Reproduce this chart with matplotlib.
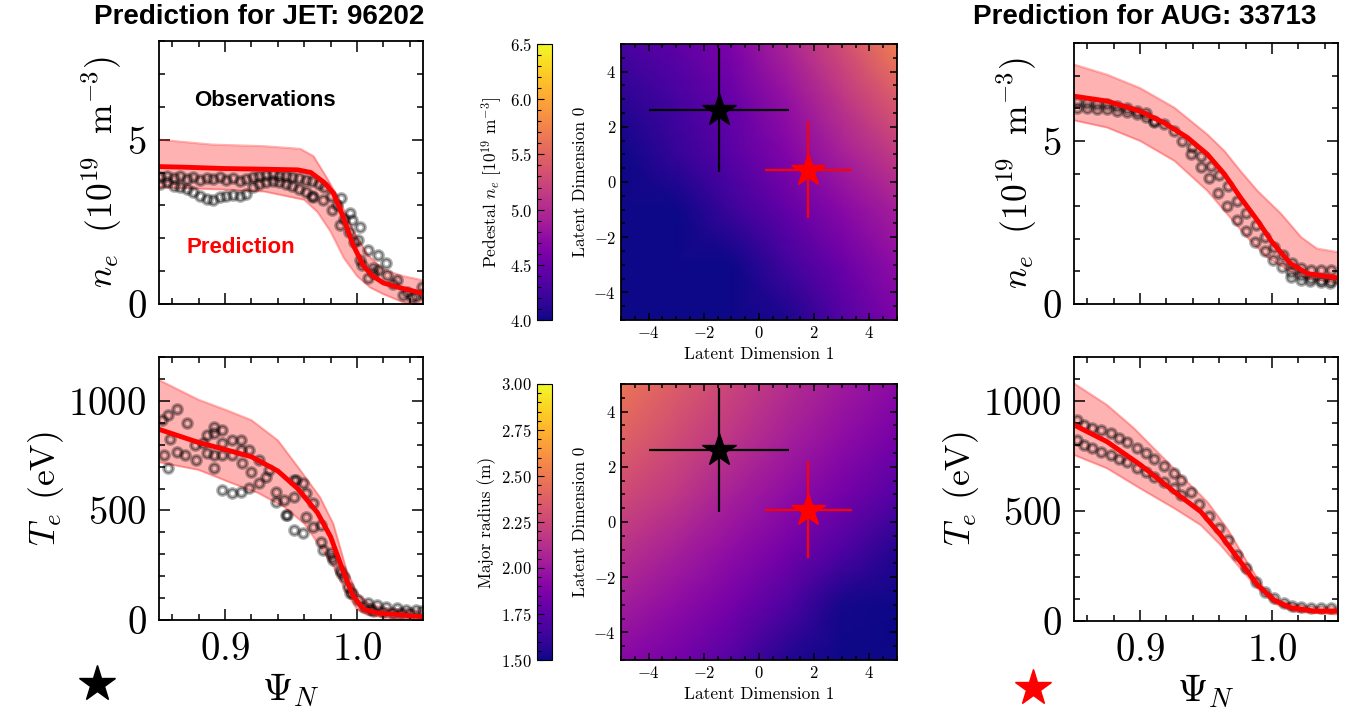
import numpy as np
import matplotlib
matplotlib.use("Agg")
import matplotlib.pyplot as plt
from matplotlib.lines import Line2D
from matplotlib.ticker import MultipleLocator

plt.rcParams["font.family"] = ["cmr10"]
plt.rcParams["mathtext.fontset"] = "cm"
plt.rcParams["axes.formatter.use_mathtext"] = True
plt.rcParams["axes.unicode_minus"] = True

# ---- JET 96202 profiles ----
jet_ne_pred_x = [0.85, 0.87, 0.90, 0.93, 0.955, 0.965, 0.975, 0.982, 0.989, 0.997, 1.005, 1.012, 1.02, 1.033, 1.05]
jet_ne_pred = [4.18, 4.16, 4.12, 4.10, 4.08, 4.0, 3.7, 3.38, 2.7, 1.8, 1.15, 0.85, 0.64, 0.49, 0.32]
jet_ne_up_x = [0.85, 0.89, 0.93, 0.957, 0.967, 0.977, 0.987, 0.997, 1.008, 1.02, 1.035, 1.05]
jet_ne_up = [5.0, 4.85, 4.8, 4.72, 4.5, 3.85, 3.15, 2.25, 1.5, 1.05, 0.85, 0.72]
jet_ne_lo_x = [0.85, 0.90, 0.93, 0.96, 0.97, 0.98, 0.99, 1.0, 1.01, 1.02, 1.035, 1.05]
jet_ne_lo = [3.55, 3.48, 3.42, 3.17, 2.8, 2.2, 1.4, 0.85, 0.5, 0.3, 0.05, 0.0]
jet_ne_obs_x = [0.851, 0.856, 0.861, 0.866, 0.871, 0.876, 0.881, 0.886, 0.891, 0.896, 0.901, 0.906, 0.911,
                0.916, 0.921, 0.926, 0.931, 0.936, 0.941, 0.946, 0.951, 0.956, 0.961, 0.966, 0.971,
                0.851, 0.856, 0.861, 0.866, 0.871, 0.876, 0.881, 0.886, 0.891, 0.896, 0.901, 0.906,
                0.911, 0.916, 0.921, 0.926, 0.931, 0.936, 0.941, 0.946, 0.951, 0.956, 0.961, 0.966,
                0.967, 0.974, 0.981, 0.988, 0.987, 0.995, 0.996, 1.002, 1.001, 1.008, 1.002, 1.016,
                1.016, 1.008, 1.022, 1.030, 1.023, 1.035, 1.042, 1.049, 0.975, 0.980, 0.985, 0.990,
                0.994, 0.998, 1.004, 1.012, 1.027, 1.038, 1.045, 1.050, 1.012]
jet_ne_obs = [3.85, 3.9, 3.82, 3.88, 3.8, 3.85, 3.78, 3.83, 3.8, 3.85, 3.78, 3.82, 3.75,
              3.8, 3.85, 3.88, 3.92, 3.95, 3.9, 3.88, 3.85, 3.82, 3.78, 3.75, 3.65,
              3.65, 3.72, 3.6, 3.55, 3.5, 3.42, 3.3, 3.2, 3.17, 3.25, 3.3, 3.32,
              3.28, 3.35, 3.55, 3.65, 3.72, 3.75, 3.7, 3.65, 3.6, 3.5, 3.4, 3.3,
              3.26, 3.17, 2.87, 3.23, 2.41, 2.77, 2.56, 2.35, 1.95, 1.65, 1.34, 1.49,
              1.04, 0.79, 1.25, 0.73, 0.88, 0.27, 0.21, 0.52, 3.55, 3.3, 3.0, 2.6,
              2.2, 1.9, 1.2, 1.1, 0.6, 0.35, 0.25, 0.3, 0.95]

jet_te_pred_x = [0.85, 0.88, 0.90, 0.92, 0.94, 0.955, 0.97, 0.98, 0.99, 0.997, 1.005, 1.015, 1.03, 1.05]
jet_te_pred = [870, 810, 778, 745, 680, 600, 490, 380, 215, 110, 50, 32, 25, 14]
jet_te_up_x = [0.85, 0.88, 0.90, 0.92, 0.94, 0.957, 0.972, 0.982, 0.992, 1.0, 1.008, 1.02, 1.05]
jet_te_up = [1095, 1005, 960, 912, 820, 684, 560, 440, 230, 125, 80, 55, 40]
jet_te_lo_x = [0.85, 0.88, 0.905, 0.925, 0.945, 0.96, 0.972, 0.982, 0.992, 1.0, 1.008, 1.03, 1.05]
jet_te_lo = [720, 685, 625, 580, 515, 440, 335, 245, 125, 48, 22, 5, 0]
jet_te_obs_x = [0.852, 0.857, 0.864, 0.871, 0.858, 0.854, 0.857, 0.864, 0.870, 0.877, 0.878, 0.883,
                0.886, 0.892, 0.892, 0.898, 0.892, 0.886, 0.892, 0.898, 0.898, 0.905, 0.912, 0.905,
                0.912, 0.918, 0.913, 0.920, 0.926, 0.898, 0.905, 0.912, 0.918, 0.926, 0.931, 0.933,
                0.939, 0.945, 0.939, 0.946, 0.952, 0.954, 0.952, 0.952, 0.959, 0.961, 0.967, 0.947,
                0.959, 0.967, 0.973, 0.973, 0.980, 0.982, 0.987, 0.990, 0.993, 0.996, 1.001, 1.005,
                1.010, 1.015, 1.022, 1.030, 1.037, 1.045, 1.049, 1.012, 1.020, 1.027, 1.033, 1.040,
                0.961, 0.974, 0.981, 0.988, 0.995, 1.008]
jet_te_obs = [912, 935, 963, 899, 826, 753, 693, 766, 753, 798, 730, 807,
              844, 880, 853, 867, 693, 762, 753, 807, 753, 821, 821, 753,
              776, 776, 716, 675, 730, 593, 579, 584, 602, 625, 652, 684,
              584, 547, 538, 479, 561, 639, 411, 639, 625, 579, 534, 479,
              397, 424, 433, 356, 306, 274, 228, 196, 151, 123, 91, 59,
              50, 68, 59, 55, 46, 46, 40, 40, 36, 33, 32, 30,
              470, 319, 287, 214, 123, 78]

# ---- AUG 33713 profiles ----
aug_ne_pred_x = [0.85, 0.875, 0.90, 0.918, 0.936, 0.951, 0.964, 0.976, 0.989, 1.0, 1.014, 1.027, 1.05]
aug_ne_pred = [6.37, 6.22, 5.91, 5.56, 5.10, 4.59, 3.98, 3.27, 2.56, 1.9, 1.24, 0.93, 0.8]
aug_ne_up_x = [0.85, 0.875, 0.90, 0.926, 0.951, 0.964, 0.976, 0.989, 1.007, 1.022, 1.034, 1.05]
aug_ne_up = [7.34, 7.03, 6.62, 6.02, 5.20, 4.69, 4.08, 3.47, 2.76, 2.05, 1.70, 1.59]
aug_ne_lo_x = [0.85, 0.875, 0.90, 0.926, 0.951, 0.966, 0.981, 0.996, 1.012, 1.027, 1.05]
aug_ne_lo = [5.63, 5.41, 5.0, 4.39, 3.47, 2.76, 2.05, 1.44, 1.03, 0.78, 0.63]
aug_ne_obs_x = [0.8525, 0.8601, 0.8677, 0.8753, 0.8828, 0.8904, 0.898, 0.9043, 0.9106,
                0.8525, 0.8601, 0.8677, 0.8753, 0.8828, 0.8904, 0.898, 0.9043, 0.9106,
                0.9182, 0.9258, 0.9321, 0.9396, 0.946, 0.9535, 0.9598, 0.9667, 0.9737, 0.9806,
                0.9876, 0.9944, 1.0015, 1.0083, 1.0154, 1.0217, 1.0293, 1.0369, 1.0444,
                0.9384, 0.946, 0.9523, 0.9591, 0.9662, 0.9732, 0.980, 0.9871, 0.9944, 1.001,
                1.0078, 1.0146, 1.0217, 1.0293, 1.0369, 1.0444,
                1.0141, 1.0217, 1.029, 1.037, 1.044]
aug_ne_obs = [6.20, 6.17, 6.14, 6.12, 6.07, 6.02, 5.93, 5.86, 5.61,
              6.02, 6.02, 5.99, 5.97, 5.93, 5.89, 5.82, 5.72, 5.59,
              5.51, 5.30, 5.0, 4.80, 4.54, 4.24, 3.96, 3.61, 3.17, 2.80,
              2.41, 2.05, 1.75, 1.49, 1.26, 1.09, 1.04, 1.04, 1.04,
              4.59, 4.21, 3.86, 3.40, 3.0, 2.59, 2.24, 1.90, 1.62, 1.34,
              1.14, 0.99, 0.88, 0.81, 0.75, 0.71,
              0.82, 0.75, 0.71, 0.66, 0.65]

aug_te_pred_x = [0.85, 0.875, 0.9005, 0.9258, 0.946, 0.961, 0.976, 0.989, 1.0015, 1.014, 1.032, 1.05]
aug_te_pred = [891, 815, 709, 588, 497, 391, 270, 164, 95, 61, 45, 45]
aug_te_up_x = [0.85, 0.875, 0.8955, 0.913, 0.9333, 0.951, 0.966, 0.981, 0.994, 1.0066, 1.027, 1.05]
aug_te_up = [1080, 982, 876, 770, 648, 542, 421, 270, 148, 88, 65, 61]
aug_te_lo_x = [0.85, 0.875, 0.90, 0.926, 0.946, 0.961, 0.976, 0.989, 1.0015, 1.0167, 1.05]
aug_te_lo = [755, 694, 603, 512, 436, 345, 239, 148, 80, 42, 30]
aug_te_obs_x = [0.8525, 0.8576, 0.8639, 0.8702, 0.8778, 0.8841, 0.8904, 0.898, 0.9043, 0.9106,
                0.9182, 0.9258, 0.9308, 0.9384, 0.9447, 0.9523, 0.9598, 0.9667, 0.9737, 0.9806,
                0.9876, 0.9944, 1.0015, 1.0091, 1.0154, 1.0217, 1.0293, 1.0369, 1.0444,
                0.8525, 0.8576, 0.8639, 0.8702, 0.8778, 0.8841, 0.8904, 0.898, 0.9043, 0.9106,
                0.9182, 0.9258, 0.9308]
aug_te_obs = [914, 891, 879, 868, 853, 833, 812, 785, 762, 736,
              706, 671, 641, 588, 530, 479, 424, 368, 300, 239,
              179, 133, 103, 80, 70, 65, 61, 58, 58,
              823, 800, 785, 770, 755, 736, 724, 697, 679, 656,
              633, 603, 573]

# ---- latent space maps (values read at grid nodes) ----
latent_grid = [-5, -3, -1, 1, 3, 5]
ped_ne_map = [[3.60, 3.70, 3.85, 4.05, 4.35, 4.62],   # latent dim 0 = -5
              [3.70, 3.85, 4.00, 4.25, 4.50, 4.75],
              [3.85, 4.00, 4.22, 4.45, 4.70, 4.90],
              [4.00, 4.18, 4.40, 4.65, 4.90, 5.15],
              [4.12, 4.28, 4.48, 4.78, 5.10, 5.42],
              [4.30, 4.42, 4.62, 4.95, 5.30, 5.70]]   # latent dim 0 = +5
major_r_map = [[1.92, 1.84, 1.72, 1.55, 1.42, 1.35],
               [2.03, 1.94, 1.84, 1.70, 1.52, 1.42],
               [2.15, 2.05, 1.95, 1.84, 1.70, 1.56],
               [2.27, 2.17, 2.05, 1.95, 1.84, 1.72],
               [2.38, 2.27, 2.16, 2.04, 1.94, 1.84],
               [2.48, 2.36, 2.24, 2.12, 2.02, 1.93]]
# encoded shots: (dim1, dim0, err dim1, err dim0)
jet_latent = (-1.45, 2.62, 2.55, 2.25)
aug_latent = (1.78, 0.45, 1.58, 1.75)

W, H = 1356, 717


def rect(x0, y0, x1, y1):
    return [x0 / W, 1 - y1 / H, (x1 - x0) / W, (y1 - y0) / H]


def style_ticks(ax, size, pad=3.5):
    ax.tick_params(which="both", direction="in", top=True, right=True, width=1.1,
                   labelsize=size, pad=pad)
    ax.tick_params(which="major", length=8)
    ax.tick_params(which="minor", length=4.5)
    for s in ax.spines.values():
        s.set_linewidth(1.3)


def profile(ax, px, pred, ux, up, lx, lo, ox, obs):
    grid = np.union1d(ux, lx)
    upper = np.interp(grid, ux, up)
    lower = np.interp(grid, lx, lo)
    ax.fill_between(grid, lower, upper, color="red", alpha=0.3, lw=0)
    ax.plot(ux, up, color="red", alpha=0.3, lw=1.5)
    ax.plot(lx, lo, color="red", alpha=0.3, lw=1.5)
    ax.plot(ox, obs, "o", ms=6, mfc="none", mec="k", mew=3.2, alpha=0.3)
    ax.plot(ox, obs, "o", ms=6, mfc="none", mec="k", mew=1.0, alpha=0.35)
    ax.plot(px, pred, color="red", lw=3.5)
    ax.set_xlim(0.85, 1.05)
    ax.xaxis.set_major_locator(MultipleLocator(0.1))
    ax.xaxis.set_minor_locator(MultipleLocator(0.02))
    style_ticks(ax, 28, pad=9)


def latent_map(ax, cax, values, vmin, vmax, label, major, minor):
    mesh = ax.pcolormesh(latent_grid, latent_grid, values, shading="gouraud",
                         cmap="plasma", vmin=vmin, vmax=vmax, rasterized=True)
    for (x, y, ex, ey), c in [(jet_latent, "k"), (aug_latent, "red")]:
        ax.errorbar([x], [y], xerr=[ex], yerr=[ey], fmt="*", color=c, ms=25, lw=1.6, capsize=0)
    ax.set_xlim(-5, 5)
    ax.set_ylim(-5, 5)
    ax.xaxis.set_major_locator(MultipleLocator(2))
    ax.yaxis.set_major_locator(MultipleLocator(2))
    ax.xaxis.set_minor_locator(MultipleLocator(0.5))
    ax.yaxis.set_minor_locator(MultipleLocator(0.5))
    style_ticks(ax, 12)
    ax.tick_params(which="major", length=5)
    ax.tick_params(which="minor", length=3)
    ax.set_xlabel("Latent Dimension 1", fontsize=12.5)
    ax.set_ylabel("Latent Dimension 0", fontsize=12.5)
    cb = plt.colorbar(mesh, cax=cax)
    cax.yaxis.set_ticks_position("left")
    cax.yaxis.set_label_position("left")
    cb.set_ticks(np.arange(vmin, vmax + 1e-9, major))
    cax.yaxis.set_minor_locator(MultipleLocator(minor))
    cax.tick_params(which="both", direction="in", labelsize=12, width=0.8)
    cax.tick_params(which="major", length=5)
    cax.tick_params(which="minor", length=3)
    cb.outline.set_linewidth(0.8)
    cb.set_label(label, fontsize=12.5)


fig = plt.figure(figsize=(W / 100, H / 100), dpi=100)

ne_label = r"$n_e\ \ (10^{19}\ \ \mathrm{m}^{-3})$"
te_label = r"$T_e$ (eV)"

ax1 = fig.add_axes(rect(159, 41, 423, 304))
profile(ax1, jet_ne_pred_x, jet_ne_pred, jet_ne_up_x, jet_ne_up, jet_ne_lo_x, jet_ne_lo, jet_ne_obs_x, jet_ne_obs)
ax1.set_ylim(0, 8)
ax1.yaxis.set_major_locator(MultipleLocator(5))
ax1.yaxis.set_minor_locator(MultipleLocator(1))
ax1.set_xticklabels([])
ax1.set_ylabel(ne_label, fontsize=25.5, labelpad=2)
ax1.text(0.40, 0.775, "Observations", transform=ax1.transAxes, ha="center", va="center",
         family="Liberation Sans", weight="bold", fontsize=16, color="k")
ax1.text(0.31, 0.213, "Prediction", transform=ax1.transAxes, ha="center", va="center",
         family="Liberation Sans", weight="bold", fontsize=16, color="red")

ax2 = fig.add_axes(rect(159, 357, 423, 620))
profile(ax2, jet_te_pred_x, jet_te_pred, jet_te_up_x, jet_te_up, jet_te_lo_x, jet_te_lo, jet_te_obs_x, jet_te_obs)
ax2.set_ylim(0, 1200)
ax2.yaxis.set_major_locator(MultipleLocator(500))
ax2.yaxis.set_minor_locator(MultipleLocator(100))
ax2.set_ylabel(te_label, fontsize=25.5, labelpad=2)
ax2.set_xlabel(r"$\Psi_N$", fontsize=28, labelpad=2)

ax3 = fig.add_axes(rect(1074, 43, 1338, 304))
profile(ax3, aug_ne_pred_x, aug_ne_pred, aug_ne_up_x, aug_ne_up, aug_ne_lo_x, aug_ne_lo, aug_ne_obs_x, aug_ne_obs)
ax3.set_ylim(0, 8)
ax3.yaxis.set_major_locator(MultipleLocator(5))
ax3.yaxis.set_minor_locator(MultipleLocator(1))
ax3.set_xticklabels([])
ax3.set_ylabel(ne_label, fontsize=25.5, labelpad=2)

ax4 = fig.add_axes(rect(1074, 357, 1338, 621))
profile(ax4, aug_te_pred_x, aug_te_pred, aug_te_up_x, aug_te_up, aug_te_lo_x, aug_te_lo, aug_te_obs_x, aug_te_obs)
ax4.set_ylim(0, 1200)
ax4.yaxis.set_major_locator(MultipleLocator(500))
ax4.yaxis.set_minor_locator(MultipleLocator(100))
ax4.set_ylabel(te_label, fontsize=25.5, labelpad=2)
ax4.set_xlabel(r"$\Psi_N$", fontsize=28, labelpad=2)

# middle column: latent space coloured by physical quantity
hm1 = fig.add_axes(rect(621, 44, 897, 320))
cb1 = fig.add_axes(rect(537, 44, 552, 320))
latent_map(hm1, cb1, ped_ne_map, 4.0, 6.5, r"Pedestal $n_e$ $[10^{19}$ m$^{-3}]$", 0.5, 0.1)

hm2 = fig.add_axes(rect(621, 384, 897, 660))
cb2 = fig.add_axes(rect(537, 384, 552, 660))
latent_map(hm2, cb2, major_r_map, 1.5, 3.0, "Major radius (m)", 0.25, 0.05)

fig.text(259.5 / W, 1 - 17 / H, "Prediction for JET: 96202", ha="center", va="center",
         family="Liberation Sans", weight="bold", fontsize=20)
fig.text(1144.5 / W, 1 - 17 / H, "Prediction for AUG: 33713", ha="center", va="center",
         family="Liberation Sans", weight="bold", fontsize=20)

fig.add_artist(Line2D([97 / W], [1 - 684 / H], marker="*", ms=27, color="k", transform=fig.transFigure))
fig.add_artist(Line2D([1033 / W], [1 - 688 / H], marker="*", ms=27, color="red", transform=fig.transFigure))

fig.savefig("out.png", dpi=100)
